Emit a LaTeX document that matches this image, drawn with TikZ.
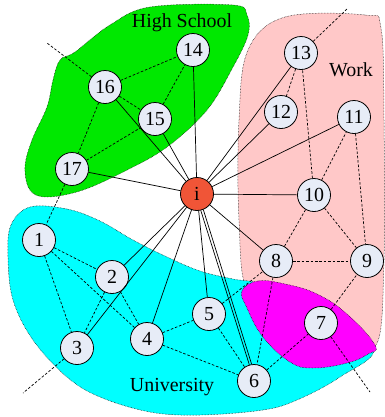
\documentclass[tikz,border=0pt]{standalone}
\usepackage{fontspec}
\setmainfont{Liberation Serif}
\definecolor{schoolgreen}{RGB}{0,232,0}
\definecolor{workpink}{RGB}{255,200,200}
\definecolor{unicyan}{RGB}{0,255,255}
\definecolor{overlapmag}{RGB}{255,0,255}
\definecolor{nodefill}{RGB}{231,236,247}
\definecolor{egofill}{RGB}{240,85,55}
\begin{document}
\begin{tikzpicture}[x=1bp,y=-1bp,
        vertex/.style={circle,draw,line width=0.8bp,fill=nodefill,minimum size=33bp,inner sep=0pt,font=\fontsize{20}{24}\selectfont},
        region/.style={draw,densely dotted,line width=0.5bp},
        tie/.style={line width=0.7bp},
        link/.style={line width=0.7bp,dash pattern=on 2.6bp off 1.8bp},
        group-label/.style={anchor=base,font=\fontsize{20}{24}\selectfont}]
    \useasboundingbox (0,0) rectangle (385,417);

    \path[region,fill=schoolgreen] plot[smooth cycle,tension=0.6] coordinates {
        (150,7) (233,5) (247,15) (248,35) (233,67) (207,110) (167,147) (127,170) (83,190)
        (47,197) (30,190) (25,167) (32,140) (47,107) (53,80) (60,60) (75,52) (110,25)};
    \path[region,fill=workpink] plot[smooth cycle,tension=0.6] coordinates {
        (285,17) (365,15) (381,28) (384,120) (384,260) (376,345) (340,325) (290,305) (248,292)
        (239,220) (239,120) (248,50)};
    \path[region,fill=unicyan] plot[smooth cycle,tension=0.6] coordinates {
        (30,207) (67,209) (100,221) (133,240) (167,257) (200,271) (233,279) (262,284) (320,305)
        (374,347) (340,377) (297,400) (263,410) (200,415) (150,412) (100,397) (67,377) (33,340)
        (13,300) (8,257) (11,225)};
    \path[region,fill=overlapmag] plot[smooth cycle,tension=0.7] coordinates {
        (242,291) (258,281) (285,284) (317,294) (347,314) (375,345) (368,354) (347,363) (313,368)
        (290,362) (263,337) (247,308)};

    \node[group-label] (high-school) at (182,27) {High School};
    \node[group-label] (work) at (351,76) {Work};
    \node[group-label] (university) at (172,391) {University};

    \foreach \n/\x/\y in {1/39/240,2/112/277,3/77/348,4/147/339,5/209/314,6/254/381,7/321/323,
            8/276/261,9/367/261,10/314/195,11/354/117,12/281/112,13/301/53,14/193/50,15/155/119,
            16/105/87,17/72/169} {
        \node[vertex] (\n) at (\x,\y) {\n};
    }
    \node[vertex,fill=egofill] (i) at (197,194) {i};

    \coordinate (out-16) at (47,43);
    \coordinate (out-13) at (347,9);
    \coordinate (out-3) at (23,393);
    \coordinate (out-7) at (370,392);

    \foreach \b in {2,3,4,5,8,10,11,12,13,14,15,16,17} {
        \draw[tie] (i) -- (\b);
    }
    \draw[tie] (i.-77) -- (6.106);
    \draw[tie] (i.-68) -- (6.98);

    \foreach \a/\b in {16/14,16/15,15/14,16/17,17/15,17/1,1/2,1/3,1/4,2/3,2/4,4/5,4/6,5/6,5/8,
            8/6,6/7,7/9,8/9,8/10,10/9,10/11,11/9,10/13,13/12,16/out-16,13/out-13,3/out-3,7/out-7} {
        \draw[link] (\a) -- (\b);
    }
\end{tikzpicture}
\end{document}
